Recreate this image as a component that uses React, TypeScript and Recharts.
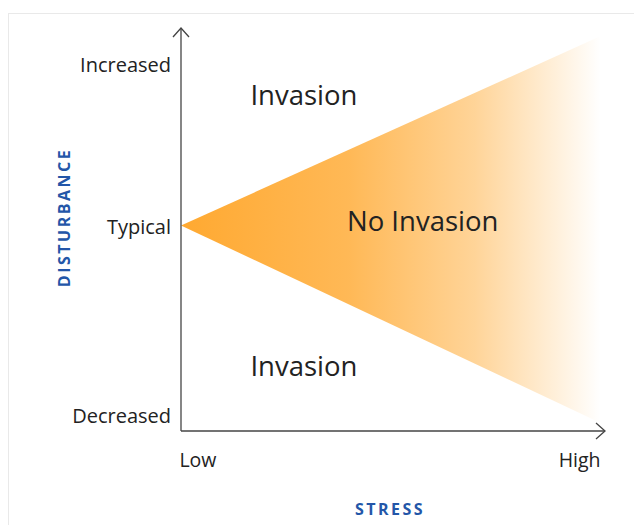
import {
  ComposedChart,
  Area,
  Scatter,
  LabelList,
  XAxis,
  YAxis,
  ReferenceLine,
} from 'recharts';

// triangle: apex at "typical" disturbance, widening toward high stress
const wedgeX = [0, 99];
const wedgeLow = [51, 2];
const wedgeHigh = [51, 98];

const yTicks = [4, 51, 91];
const yTickLabels = ['Decreased', 'Typical', 'Increased'];
const xTicks = [4, 94];
const xTickLabels = ['Low', 'High'];

const regionNames = ['Invasion', 'No Invasion', 'Invasion'];
const regionX = [29, 57, 29];
const regionY = [83.5, 52.3, 16.3];

const FONT = '"Open Sans", "Noto Sans", sans-serif';
const INK = '#222';
const AXIS = '#444';
const TITLE = '#2356a8';
const ORANGE = '#ffa931';

const wedgeData = wedgeX.map((x, i) => ({ x, range: [wedgeLow[i], wedgeHigh[i]] }));
const regionData = regionNames.map((name, i) => ({ x: regionX[i], y: regionY[i], name }));

function Arrow({ x1, y1, x2, y2 }: any) {
  const dx = x2 - x1;
  const dy = y2 - y1;
  const len = Math.hypot(dx, dy) || 1;
  const ux = dx / len;
  const uy = dy / len;
  const h = 9;
  const w = 8;
  const bx = x2 - ux * h;
  const by = y2 - uy * h;
  return (
    <g>
      <line x1={x1} y1={y1} x2={x2} y2={y2} stroke={AXIS} strokeWidth={1.3} />
      <path
        d={`M${bx - uy * w},${by + ux * w} L${x2},${y2} L${bx + uy * w},${by - ux * w}`}
        fill="none"
        stroke={AXIS}
        strokeWidth={1.3}
      />
    </g>
  );
}

function RegionLabel(props: any) {
  const { x, y, width = 0, height = 0, value } = props;
  return (
    <text
      x={x + width / 2}
      y={y + height / 2}
      textAnchor="middle"
      dominantBaseline="central"
      fill={INK}
      fontSize={27.5}
      fontFamily={FONT}
    >
      {value}
    </text>
  );
}

export default function App() {
  return (
    <div style={{ position: 'relative', width: 634, height: 517, overflow: 'hidden', fontFamily: FONT }}>
      <div
        style={{
          position: 'absolute',
          left: 0,
          top: 5,
          width: 700,
          height: 600,
          border: '1px solid #e9e9e9',
          boxSizing: 'border-box',
        }}
      />
      <div style={{ position: 'absolute', left: 0, top: 0 }}>
        <ComposedChart
          width={634}
          height={517}
          margin={{ top: 20, right: 37, left: 0, bottom: 34 }}
        >
          <defs>
            <linearGradient id="wedgeFill" x1="0" y1="0" x2="1" y2="0">
              <stop offset="0%" stopColor={ORANGE} stopOpacity={1} />
              <stop offset="40%" stopColor={ORANGE} stopOpacity={0.82} />
              <stop offset="70%" stopColor={ORANGE} stopOpacity={0.5} />
              <stop offset="100%" stopColor={ORANGE} stopOpacity={0} />
            </linearGradient>
          </defs>
          <XAxis
            type="number"
            dataKey="x"
            domain={[0, 100]}
            ticks={xTicks}
            tickFormatter={(v) => xTickLabels[xTicks.indexOf(v)] ?? ''}
            axisLine={false}
            tickLine={false}
            tickMargin={16}
            height={60}
            tick={{ fill: INK, fontSize: 19.5, fontFamily: FONT }}
            label={{
              content: ({ viewBox }: any) => (
                <text
                  x={viewBox.x + viewBox.width / 2 - 3}
                  y={viewBox.y + 84}
                  textAnchor="middle"
                  fill={TITLE}
                  fontSize={16}
                  fontWeight={700}
                  letterSpacing={2.5}
                  fontFamily={FONT}
                >
                  STRESS
                </text>
              ),
            }}
          />
          <YAxis
            type="number"
            dataKey="y"
            domain={[0, 100]}
            ticks={yTicks}
            tickFormatter={(v) => yTickLabels[yTicks.indexOf(v)] ?? ''}
            axisLine={false}
            tickLine={false}
            tickMargin={4}
            width={173}
            tick={{ fill: INK, fontSize: 20, fontFamily: FONT, dy: 1 }}
            label={{
              content: ({ viewBox }: any) => {
                const cx = 56;
                const cy = viewBox.y + viewBox.height / 2 - 12;
                return (
                  <text
                    x={cx}
                    y={cy}
                    transform={`rotate(-90 ${cx} ${cy})`}
                    textAnchor="middle"
                    dominantBaseline="central"
                    fill={TITLE}
                    fontSize={16}
                    fontWeight={700}
                    letterSpacing={2.5}
                    fontFamily={FONT}
                  >
                    DISTURBANCE
                  </text>
                );
              },
            }}
          />
          <Area
            data={wedgeData}
            dataKey="range"
            type="linear"
            stroke="none"
            fill="url(#wedgeFill)"
            fillOpacity={1}
            isAnimationActive={false}
          />
          <ReferenceLine
            segment={[{ x: 0, y: 0 }, { x: 0, y: 100 }]}
            shape={(p: any) => <Arrow {...p} />}
          />
          <ReferenceLine
            segment={[{ x: 0, y: 0 }, { x: 100, y: 0 }]}
            shape={(p: any) => <Arrow {...p} />}
          />
          <Scatter
            data={regionData}
            dataKey="y"
            shape={() => <g />}
            isAnimationActive={false}
          >
            <LabelList dataKey="name" content={<RegionLabel />} />
          </Scatter>
        </ComposedChart>
      </div>
    </div>
  );
}
